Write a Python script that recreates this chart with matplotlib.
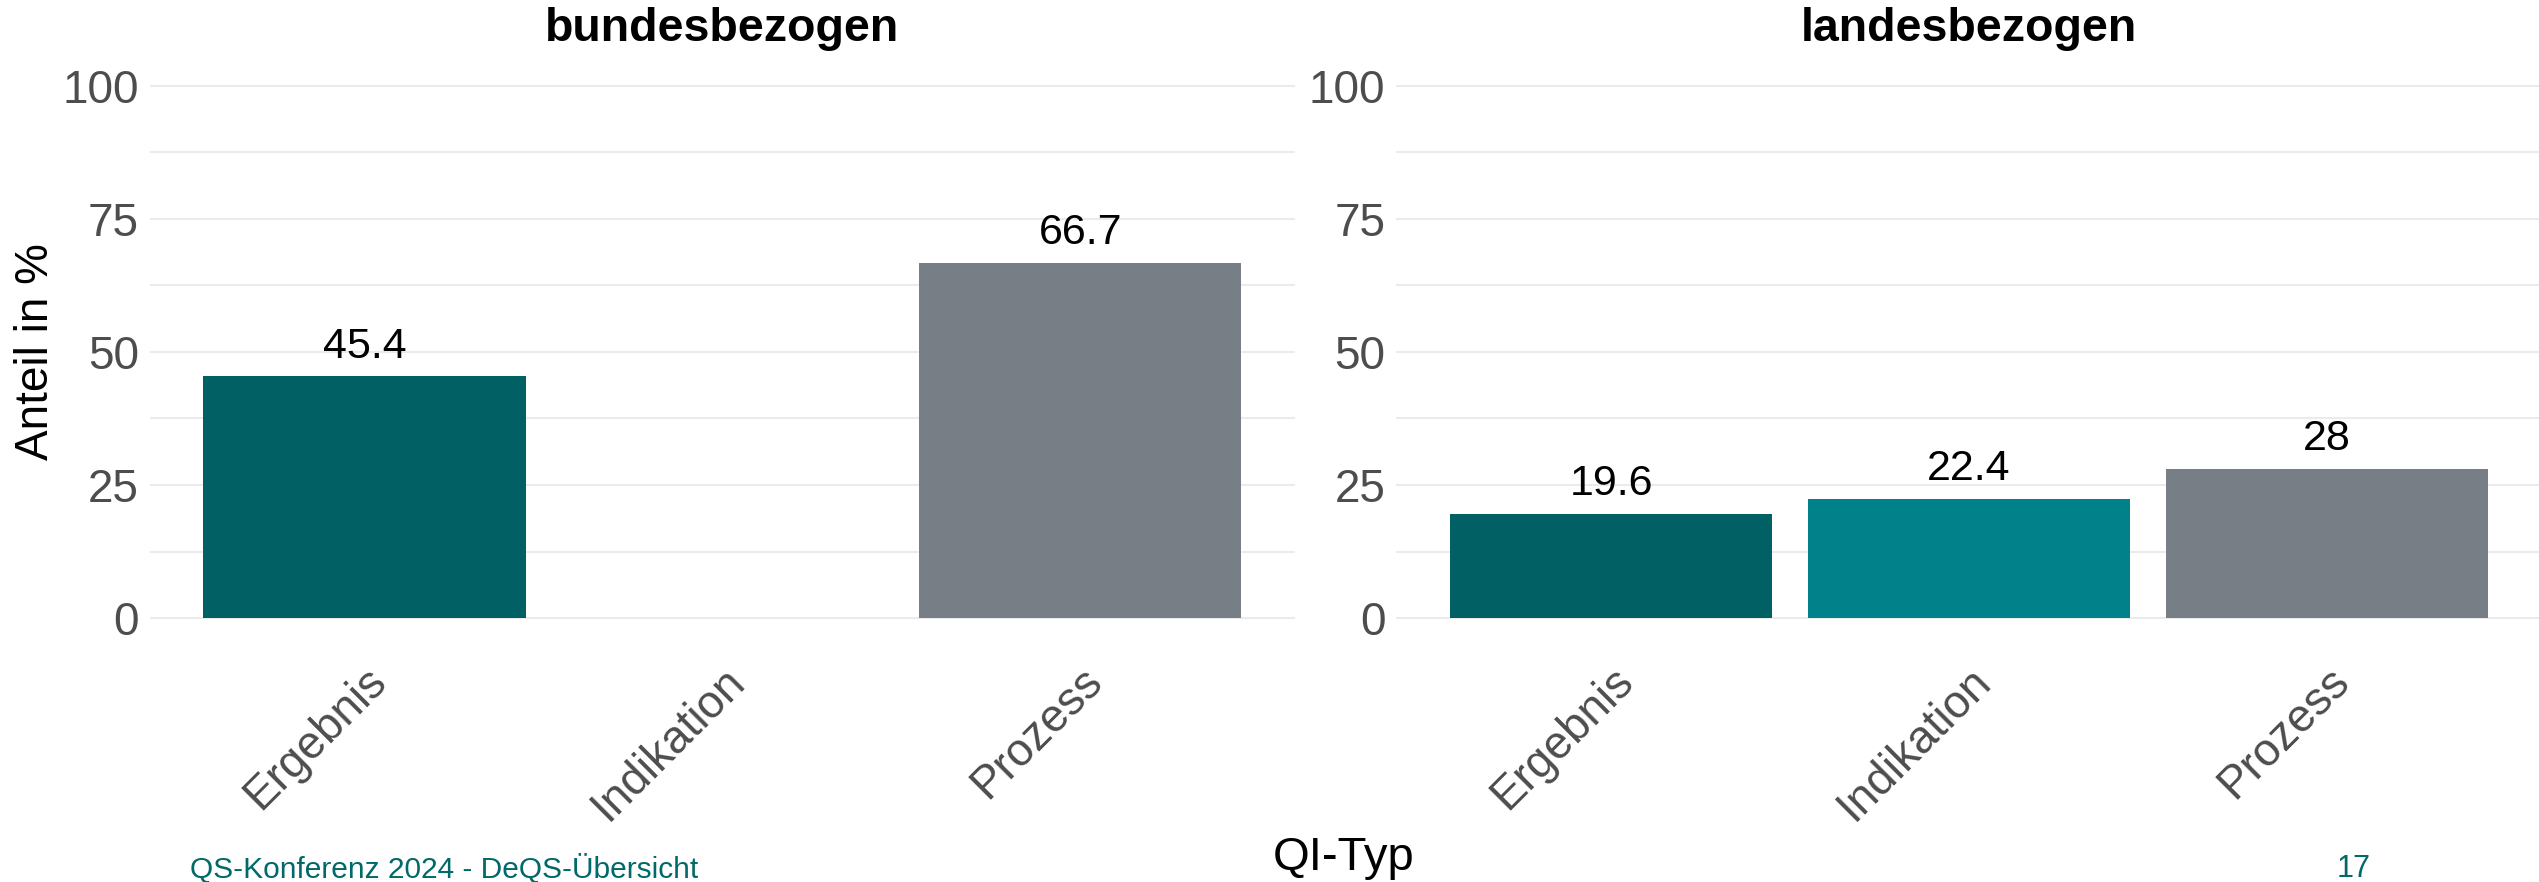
import numpy as np
import matplotlib
matplotlib.use("Agg")
import matplotlib.pyplot as plt
from matplotlib import font_manager

# data
categories = ["Ergebnis", "Indikation", "Prozess"]
bund_values = [45.4, np.nan, 66.7]   # no Indikation bar in bundesbezogen
land_values = [19.6, 22.4, 28.0]
panel_titles = ["bundesbezogen", "landesbezogen"]
y_ticks = [0, 25, 50, 75, 100]

COLORS = [
    "#016063",  # dark teal
    "#01818a",  # teal
    "#787e85",  # grey
]
TEXT_GREY = "#4d4d4d"
FOOTER = "#00696a"

plt.rcParams["font.family"] = ["Liberation Sans", "DejaVu Sans"]

try:
    font_manager.findfont("Liberation Sans Narrow", fallback_to_default=False)
    narrow = ["Liberation Sans Narrow", "Liberation Sans"]
except Exception:
    narrow = ["Liberation Sans"]

fig = plt.figure(figsize=(25.39, 8.82), dpi=100)
ax_left = fig.add_axes([0.059, 0.269, 0.451, 0.664])
ax_right = fig.add_axes([0.550, 0.269, 0.451, 0.664])

x = np.arange(1, len(categories) + 1)

for ax, vals, title in [
    (ax_left, bund_values, panel_titles[0]),
    (ax_right, land_values, panel_titles[1]),
]:
    for xi, v, c in zip(x, vals, COLORS):
        if np.isnan(v):
            continue
        ax.bar(xi, v, width=0.9, color=c, zorder=2)
        ax.annotate(f"{v:g}", (xi, v), xytext=(0, 7), textcoords="offset points",
                    ha="center", va="bottom", fontsize=31, color="black")
    ax.set_xlim(0.4, 3.6)
    ax.set_ylim(-5, 105)
    ax.set_yticks(y_ticks)
    ax.set_yticks([12.5, 37.5, 62.5, 87.5], minor=True)
    ax.set_xticks(x)
    ax.set_xticklabels(categories, rotation=45, ha="right", rotation_mode="anchor")
    ax.tick_params(axis="both", which="both", length=0, labelsize=33, labelcolor=TEXT_GREY)
    ax.tick_params(axis="x", pad=10)
    ax.tick_params(axis="y", pad=8)
    ax.grid(axis="y", which="both", color="#ebebeb", linewidth=1.5, zorder=0)
    for s in ax.spines.values():
        s.set_visible(False)
    ax.set_title(title, fontsize=33.5, fontweight="bold", pad=13)

ax_left.set_ylabel("Anteil in %", fontsize=33, labelpad=3)

fig.text(0.529, 0.027, "QI-Typ", fontsize=34, ha="center", va="center")
fig.text(0.075, 0.015, "QS-Konferenz 2024 - DeQS-Übersicht", fontsize=21.5,
         color=FOOTER, family=narrow, ha="left", va="center")
fig.text(0.927, 0.015, "17", fontsize=22, color=FOOTER, family=narrow,
         ha="center", va="center")

fig.savefig("out.png", dpi=100)
